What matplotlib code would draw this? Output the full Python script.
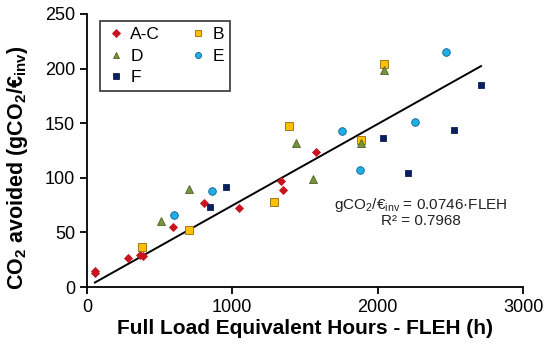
import matplotlib
matplotlib.use('Agg')
import matplotlib.pyplot as plt
import numpy as np

plt.rcParams['font.family'] = ['Liberation Sans', 'DejaVu Sans']
plt.rcParams['mathtext.fontset'] = 'custom'
plt.rcParams['mathtext.rm'] = 'Liberation Sans'
plt.rcParams['mathtext.it'] = 'Liberation Sans'
plt.rcParams['mathtext.bf'] = 'Liberation Sans:bold'

# data (FLEH in h, CO2 avoided in gCO2/EUR_inv)
ac_x = [55, 55, 284, 367, 385, 594, 805, 1044, 1335, 1347, 1573]
ac_y = [15, 13, 27, 29, 28, 55, 77, 72, 97, 89, 124]
b_x = [376, 700, 1289, 1392, 1885, 2043]
b_y = [37, 52, 78, 147, 135, 204]
d_x = [511, 702, 1438, 1555, 1887, 2043]
d_y = [60, 90, 132, 99, 132, 199]
e_x = [597, 860, 1752, 1878, 2257, 2470]
e_y = [66, 88, 143, 107, 151, 215]
f_x = [846, 956, 2036, 2207, 2525, 2711]
f_y = [73, 92, 136, 104, 144, 185]

slope = 0.0746
r2 = 0.7968

fig = plt.figure(figsize=(5.5, 3.57), dpi=100)
ax = fig.add_axes([0.158, 0.196, 0.793, 0.765])

series = [
    ('A-C', ac_x, ac_y, 'D', '#C8141E', '#C8141E', 4.5),
    ('B', b_x, b_y, 's', '#FFC000', '#8B6A10', 5.5),
    ('D', d_x, d_y, '^', '#77933C', '#4F6228', 5.5),
    ('E', e_x, e_y, 'o', '#1CB0E6', '#155F8C', 5.5),
    ('F', f_x, f_y, 's', '#0A1F5C', '#0A1F5C', 5),
]
handles = {}
for name, xs, ys, mk, fc, ec, ms in series:
    h, = ax.plot(xs, ys, linestyle='none', marker=mk, markersize=ms,
                 markerfacecolor=fc, markeredgecolor=ec, markeredgewidth=0.6,
                 label=name, zorder=3)
    handles[name] = h

all_x = np.array(ac_x + b_x + d_x + e_x + f_x)
fit_x = np.array([all_x.min(), all_x.max()])
ax.plot(fit_x, slope * fit_x, color='black', linewidth=1.4, zorder=2)

ax.text(2298, 69, r'gCO$_2$/€$_{\mathrm{inv}}$ = %.4f·FLEH' % slope + '\n' + 'R² = %.4f' % r2,
        ha='center', va='center', fontsize=11, linespacing=1.0, color='#222222')

ax.set_xlim(0, 3000)
ax.set_ylim(0, 250)
ax.set_xticks([0, 1000, 2000, 3000])
ax.set_yticks([0, 50, 100, 150, 200, 250])
ax.spines['top'].set_visible(False)
ax.spines['right'].set_visible(False)
ax.spines['left'].set_linewidth(1.3)
ax.spines['bottom'].set_linewidth(1.3)
ax.tick_params(direction='out', length=5, width=1.3, labelsize=13)

ax.set_xlabel('Full Load Equivalent Hours - FLEH (h)', fontsize=15, fontweight='bold',
              labelpad=2)
ax.set_ylabel(r'CO$_\mathbf{2}$ avoided (gCO$_\mathbf{2}$/€$_\mathbf{inv}$)',
              fontsize=15.5, fontweight='bold', va='center')
ax.yaxis.set_label_coords(-0.16, 0.436)

# row-wise order: A-C B / D E / F
order = ['A-C', 'D', 'F', 'B', 'E']
leg = ax.legend([handles[k] for k in order], order, loc='upper left', ncol=2,
                fontsize=12.5, frameon=True, fancybox=False, edgecolor='black',
                handletextpad=0.2, columnspacing=1.6, borderpad=0.35,
                labelspacing=0.35, handlelength=1.2, markerscale=0.8,
                bbox_to_anchor=(0.01, 1.005))
leg.get_frame().set_linewidth(1.2)

fig.savefig('out.png', dpi=100)
